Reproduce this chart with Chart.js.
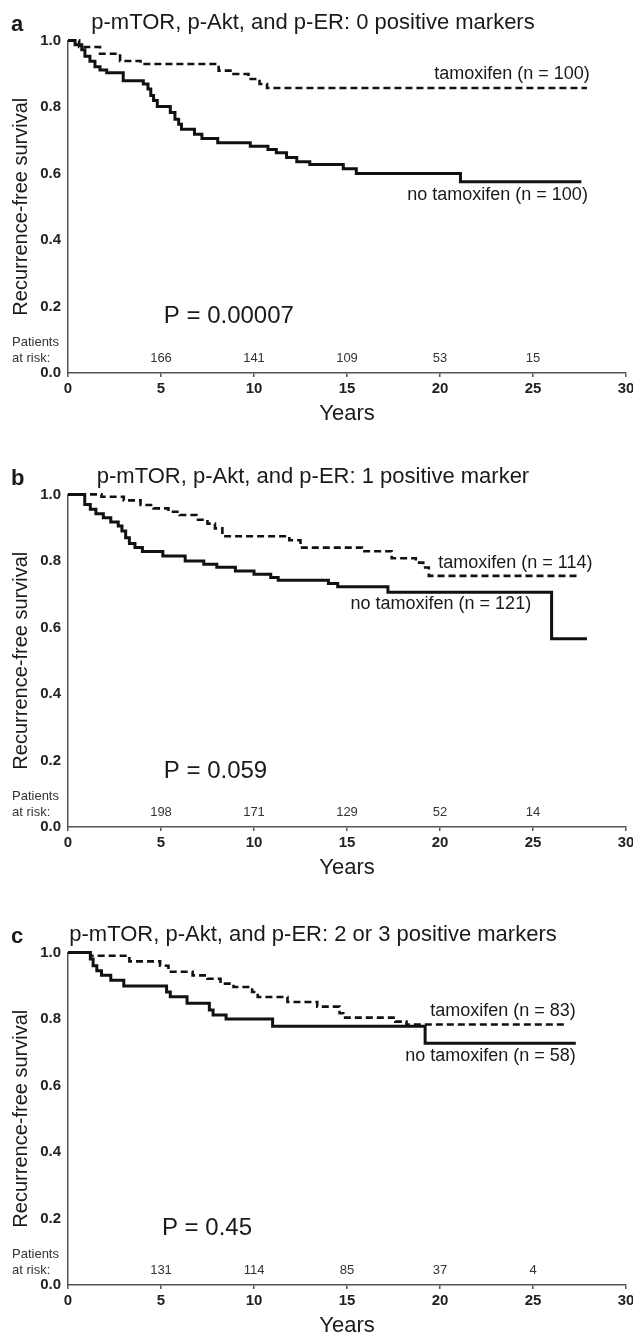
<!DOCTYPE html>
<html>
<head>
<meta charset="utf-8">
<script src="https://cdn.jsdelivr.net/npm/chart.js@4.4.0/dist/chart.umd.min.js"></script>
<style>
  html, body { margin: 0; padding: 0; background: #fff; }
  body { width: 633px; height: 1335px; overflow: hidden; position: relative; }
  .panel { position: absolute; left: 0; width: 633px; height: 433px; }
</style>
</head>
<body>
<div class="panel" style="top:0"><canvas id="chart-a" width="633" height="433"></canvas></div>
<div class="panel" style="top:454px"><canvas id="chart-b" width="633" height="433"></canvas></div>
<div class="panel" style="top:912px"><canvas id="chart-c" width="633" height="433"></canvas></div>
<script>
// years where the patients-at-risk counts are given
const riskYears = [5, 10, 15, 20, 25];

// a: 0 positive markers
const aTamYears = [0, 0.6, 1.72, 2.8, 3.9, 8.1, 8.9, 9.7, 10.3, 10.7, 27.9];
const aTamRfs   = [1, 0.98, 0.96, 0.938, 0.929, 0.909, 0.899, 0.884, 0.869, 0.857, 0.857];
const aNoYears  = [0, 0.38, 0.74, 0.91, 1.18, 1.45, 1.72, 2.08, 2.97, 4.05, 4.3, 4.45, 4.6, 4.8, 5.5, 5.75, 5.95, 6.1, 6.8, 7.2, 8.05, 9.8, 10.75, 11.2, 11.75, 12.3, 13.0, 14.8, 15.5, 21.1, 27.6];
const aNoRfs    = [1, 0.987, 0.972, 0.952, 0.937, 0.921, 0.911, 0.903, 0.879, 0.869, 0.854, 0.834, 0.819, 0.801, 0.783, 0.763, 0.748, 0.733, 0.718, 0.705, 0.692, 0.682, 0.672, 0.662, 0.648, 0.635, 0.627, 0.614, 0.600, 0.575, 0.575];
const aRisk     = [166, 141, 109, 53, 15];

// b: 1 positive marker
const bTamYears = [0, 1.8, 3.0, 3.9, 4.6, 5.4, 6.0, 6.9, 7.5, 7.9, 8.3, 11.9, 12.5, 15.8, 17.4, 18.7, 19.1, 19.4, 27.4];
const bTamRfs   = [1, 0.993, 0.982, 0.968, 0.958, 0.948, 0.938, 0.924, 0.912, 0.898, 0.874, 0.862, 0.840, 0.829, 0.808, 0.795, 0.780, 0.755, 0.755];
const bNoYears  = [0, 0.9, 1.2, 1.5, 1.9, 2.3, 2.7, 2.9, 3.1, 3.3, 3.6, 4.0, 5.1, 6.3, 7.3, 8.0, 9.0, 10.0, 10.9, 11.3, 14.0, 14.5, 17.2, 26.0, 27.9];
const bNoRfs    = [1, 0.97, 0.955, 0.942, 0.93, 0.917, 0.905, 0.89, 0.87, 0.852, 0.84, 0.828, 0.815, 0.80, 0.79, 0.781, 0.77, 0.76, 0.75, 0.742, 0.732, 0.722, 0.706, 0.566, 0.566];
const bRisk     = [198, 171, 129, 52, 14];

// c: 2 or 3 positive markers
const cTamYears = [0, 1.2, 3.3, 4.95, 5.4, 6.7, 7.5, 8.2, 8.9, 9.9, 10.2, 11.8, 13.4, 14.6, 14.8, 17.6, 18.2, 26.7];
const cTamRfs   = [1, 0.99, 0.973, 0.96, 0.942, 0.931, 0.921, 0.906, 0.896, 0.881, 0.866, 0.851, 0.837, 0.817, 0.804, 0.792, 0.783, 0.783];
const cNoYears  = [0, 1.2, 1.35, 1.55, 1.8, 2.3, 3.0, 5.3, 5.5, 6.4, 7.6, 7.8, 8.5, 11.0, 19.2, 27.3];
const cNoRfs    = [1, 0.98, 0.96, 0.945, 0.931, 0.916, 0.899, 0.881, 0.867, 0.847, 0.827, 0.812, 0.80, 0.778, 0.727, 0.727];
const cRisk     = [131, 114, 85, 37, 4];

const family = '"Liberation Sans", Arial, sans-serif';
Chart.defaults.font.family = family;
Chart.defaults.color = '#222';

const toPoints = (xs, ys) => xs.map((x, i) => ({x: x, y: ys[i]}));

// letter, curve labels, P value and the patients-at-risk row
const extras = {
  id: 'extras',
  afterDatasetsDraw(chart, args, opts) {
    const {ctx} = chart;
    const x = chart.scales.x, y = chart.scales.y;
    ctx.save();
    ctx.fillStyle = '#1a1a1a';
    ctx.font = 'bold 22px ' + family;
    ctx.textAlign = 'left';
    ctx.textBaseline = 'alphabetic';
    ctx.fillText(opts.letter, 11, 31);

    ctx.font = '18px ' + family;
    ctx.textAlign = 'right';
    ctx.textBaseline = 'middle';
    opts.labels.forEach(l => ctx.fillText(l.text, x.getPixelForValue(l.x), y.getPixelForValue(l.y)));

    ctx.font = '24px ' + family;
    ctx.textAlign = 'left';
    ctx.fillText(opts.p.text, x.getPixelForValue(opts.p.x), y.getPixelForValue(opts.p.y));

    ctx.font = '13px ' + family;
    ctx.fillStyle = '#333';
    ctx.fillText('Patients', 12, y.bottom - 31);
    ctx.fillText('at risk:', 12, y.bottom - 15);
    ctx.textAlign = 'center';
    opts.risk.forEach((n, i) => ctx.fillText(String(n), x.getPixelForValue(riskYears[i]), y.bottom - 15));
    ctx.restore();
  }
};

function makeChart(id, title, tam, no, extraOpts) {
  return new Chart(document.getElementById(id), {
    type: 'line',
    data: {
      datasets: [{
        label: 'tamoxifen',
        data: toPoints(tam[0], tam[1]),
        borderColor: '#111',
        borderWidth: 2.6,
        borderDash: [7, 4],
        stepped: true,
        pointRadius: 0,
        clip: false
      }, {
        label: 'no tamoxifen',
        data: toPoints(no[0], no[1]),
        borderColor: '#111',
        borderWidth: 3,
        stepped: true,
        pointRadius: 0,
        clip: false
      }]
    },
    options: {
      responsive: false,
      animation: false,
      layout: {padding: {left: 0, right: 7, top: 0, bottom: 0}},
      plugins: {
        legend: {display: false},
        tooltip: {enabled: false},
        title: {
          display: true,
          text: title,
          color: '#1a1a1a',
          font: {size: 22, weight: 'normal'},
          padding: {top: 10, bottom: 4}
        },
        extras: extraOpts
      },
      scales: {
        x: {
          type: 'linear',
          min: 0, max: 30,
          afterFit: s => { s.height = 60; s.paddingRight = 0; },
          ticks: {stepSize: 5, padding: 3, color: '#222', font: {size: 15, weight: 'bold'}},
          grid: {drawOnChartArea: false, drawTicks: true, tickLength: 4, color: '#555', lineWidth: 1.5},
          border: {color: '#555', width: 1.5},
          title: {display: true, text: 'Years', color: '#1a1a1a', font: {size: 22}, padding: {top: 0, bottom: 6}}
        },
        y: {
          min: 0, max: 1,
          afterFit: s => { s.width = 68; },
          ticks: {stepSize: 0.2, padding: 7, color: '#222', font: {size: 15, weight: 'bold'}, callback: v => v.toFixed(1)},
          grid: {display: false, drawTicks: false},
          border: {color: '#555', width: 1.5},
          title: {display: true, text: 'Recurrence-free survival', color: '#1a1a1a', font: {size: 20}, padding: {top: 9, bottom: 0}}
        }
      }
    },
    plugins: [extras]
  });
}

makeChart('chart-a', 'p-mTOR, p-Akt, and p-ER: 0 positive markers', [aTamYears, aTamRfs], [aNoYears, aNoRfs], {
  letter: 'a',
  labels: [{text: 'tamoxifen (n = 100)', x: 28.05, y: 0.90}, {text: 'no tamoxifen (n = 100)', x: 27.95, y: 0.535}],
  p: {text: 'P = 0.00007', x: 5.15, y: 0.17},
  risk: aRisk
});
makeChart('chart-b', 'p-mTOR, p-Akt, and p-ER: 1 positive marker', [bTamYears, bTamRfs], [bNoYears, bNoRfs], {
  letter: 'b',
  labels: [{text: 'tamoxifen (n = 114)', x: 28.2, y: 0.794}, {text: 'no tamoxifen (n = 121)', x: 24.9, y: 0.671}],
  p: {text: 'P = 0.059', x: 5.15, y: 0.168},
  risk: bRisk
});
makeChart('chart-c', 'p-mTOR, p-Akt, and p-ER: 2 or 3 positive markers', [cTamYears, cTamRfs], [cNoYears, cNoRfs], {
  letter: 'c',
  labels: [{text: 'tamoxifen (n = 83)', x: 27.3, y: 0.824}, {text: 'no tamoxifen (n = 58)', x: 27.3, y: 0.688}],
  p: {text: 'P = 0.45', x: 5.05, y: 0.171},
  risk: cRisk
});
</script>
</body>
</html>
